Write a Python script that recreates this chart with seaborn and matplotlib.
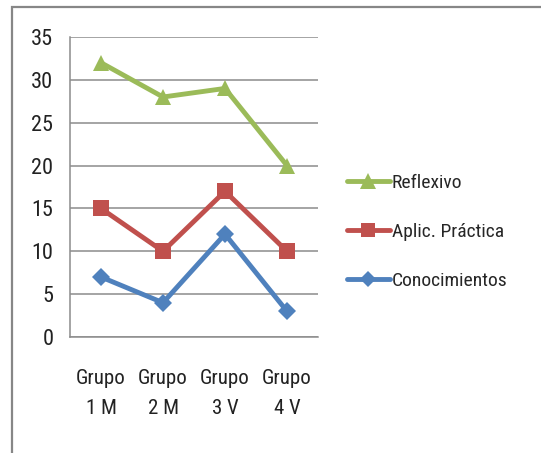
import pandas as pd
import matplotlib
matplotlib.use("Agg")
import matplotlib.pyplot as plt
import seaborn as sns
from matplotlib import font_manager
from matplotlib.patches import Rectangle
from matplotlib.lines import Line2D

# Data
grupos = ["Grupo\n1 M", "Grupo\n2 M", "Grupo\n3 V", "Grupo\n4 V"]
series = ["Reflexivo", "Aplic. Práctica", "Conocimientos"]
reflexivo = [32, 28, 29, 20]
aplic_practica = [15, 10, 17, 10]
conocimientos = [7, 4, 12, 3]
y_ticks = [0, 5, 10, 15, 20, 25, 30, 35]

colores = {"Reflexivo": "#9BBB59", "Aplic. Práctica": "#C0504D", "Conocimientos": "#4F81BD"}
marcadores = {"Reflexivo": "^", "Aplic. Práctica": "s", "Conocimientos": "D"}
tamanos = {"Reflexivo": 12, "Aplic. Práctica": 11, "Conocimientos": 9}

# Long-form table
rows = []
for nombre, valores in zip(series, [reflexivo, aplic_practica, conocimientos]):
    for i, v in enumerate(valores):
        rows.append({"pos": i, "Serie": nombre, "Valor": v})
df = pd.DataFrame(rows)

sns.set_style("white")

# narrow font if there is one, else Liberation Sans a bit smaller
disponibles = {f.name for f in font_manager.fontManager.ttflist}
fuente, tam = "Liberation Sans", 12.5
for nombre, t in [("Liberation Sans Narrow", 14), ("DejaVu Sans Condensed", 13),
                  ("Roboto Condensed", 14)]:
    if nombre in disponibles:
        fuente, tam = nombre, t
        break
plt.rcParams['font.family'] = [fuente, 'DejaVu Sans']

fig = plt.figure(figsize=(5.41, 4.53), dpi=100)
ax = fig.add_axes([70 / 541, 1 - 337 / 453, 248 / 541, 300 / 453])

# Draw back to front like Excel
for nombre in reversed(series):
    sns.lineplot(data=df[df.Serie == nombre], x="pos", y="Valor", ax=ax,
                 color=colores[nombre], marker=marcadores[nombre],
                 markersize=tamanos[nombre], markeredgewidth=0,
                 linewidth=3.5, legend=False, zorder=3)

ax.set_xlim(-0.5, 3.5)
ax.set_ylim(0, 35)
ax.set_yticks(y_ticks)
ax.set_yticklabels([str(t) for t in y_ticks], fontsize=tam + 2, color="#222222")
ax.yaxis.grid(True, color="#8C8C8C", linewidth=1.1)
ax.set_axisbelow(True)

# category boundaries as major ticks, labels on minor ticks
ax.set_xticks([-0.5, 0.5, 1.5, 2.5, 3.5])
ax.set_xticklabels([])
ax.set_xticks(range(len(grupos)), minor=True)
ax.set_xticklabels(grupos, minor=True, fontsize=tam + 1, color="#222222", linespacing=1.75)
ax.tick_params(axis="x", which="major", length=8, width=1.1, color="#8C8C8C", direction="out")
ax.tick_params(axis="x", which="minor", length=0, pad=23)
ax.tick_params(axis="y", length=7, width=1.1, color="#8C8C8C", direction="out", pad=5)
ax.set_xlabel("")
ax.set_ylabel("")

for lado in ["top", "right"]:
    ax.spines[lado].set_visible(False)
for lado in ["left", "bottom"]:
    ax.spines[lado].set_color("#8C8C8C")
    ax.spines[lado].set_linewidth(1.1)

handles = [Line2D([], [], color=colores[n], marker=marcadores[n], markersize=tamanos[n] - 1,
                  markeredgewidth=0, linewidth=3.5) for n in series]
fig.legend(handles, series, loc="center left", bbox_to_anchor=(347 / 541, 1 - 232 / 453),
           frameon=False, fontsize=tam, handlelength=2.2, handletextpad=0.1,
           labelspacing=1.6, borderaxespad=0, borderpad=0)

# outer chart frame
fig.add_artist(Rectangle((12 / 541, -0.1), 1.2, 1 - 7 / 453 + 0.1, transform=fig.transFigure,
                         fill=False, edgecolor="#878787", linewidth=1.6))

fig.savefig("out.png", dpi=100)
